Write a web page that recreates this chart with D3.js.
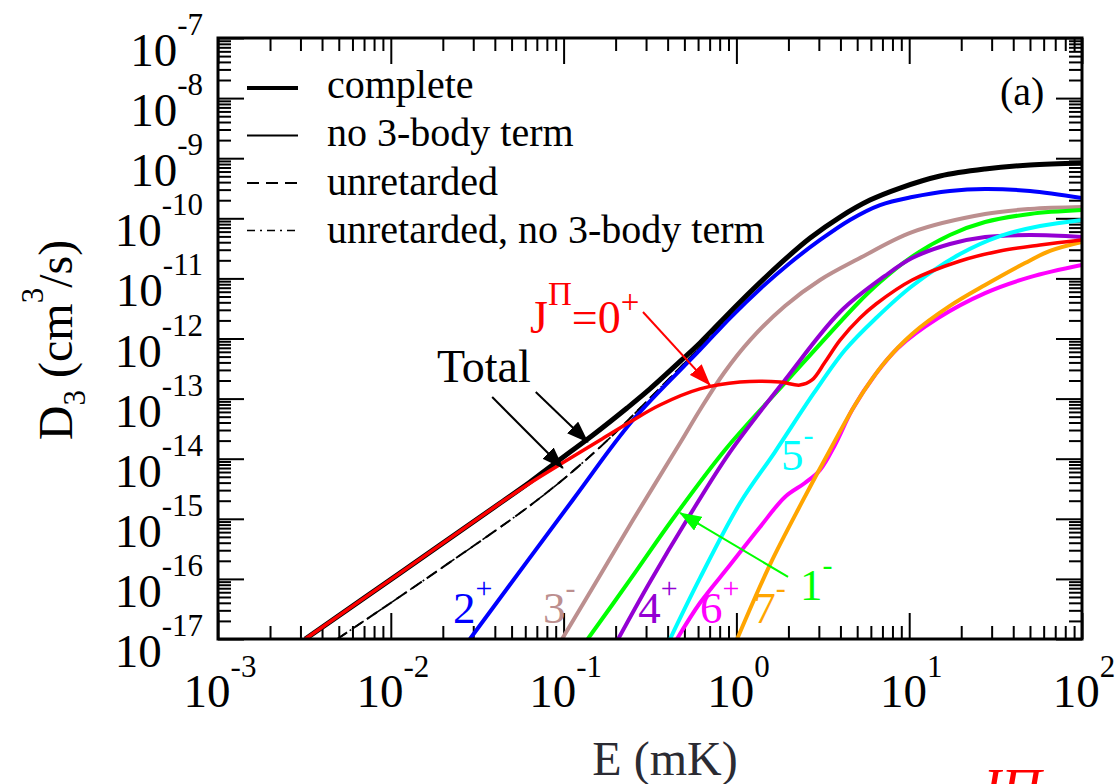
<!DOCTYPE html>
<html>
<head>
<meta charset="utf-8">
<script src="https://cdn.jsdelivr.net/npm/d3@7"></script>
<style>
body { margin: 0; background: #fff; }
svg { display: block; font-family: "Liberation Serif", "Times New Roman", serif; }
</style>
</head>
<body>
<div class="viz"></div>
<script>
/* DATA */
// axis decades
const xMajor = [1e-3, 1e-2, 1e-1, 1e0, 1e1, 1e2];
const xTickExp = ["-3", "-2", "-1", "0", "1", "2"];
const yMajor = [1e-17, 1e-16, 1e-15, 1e-14, 1e-13, 1e-12, 1e-11, 1e-10, 1e-9, 1e-8, 1e-7];
const yTickExp = ["-17", "-16", "-15", "-14", "-13", "-12", "-11", "-10", "-9", "-8", "-7"];

// E (mK) and D3 (cm^3/s)
const eComplete = [3.2e-3, 1.13e-2, 4.3e-2, 6.4e-2, 8.33e-2, 0.109, 0.148, 0.233, 0.316, 0.518, 0.615, 1.05, 1.84, 2.67, 3.98, 5.93, 8.85, 15.1, 27.5, 50, 100];
const dComplete = [1e-17, 1.25e-16, 1.83e-15, 4.09e-15, 7.28e-15, 1.29e-14, 2.48e-14, 6.98e-14, 1.45e-13, 5.31e-13, 8.41e-13, 4.05e-12, 1.88e-11, 4.70e-11, 1.05e-10, 2.01e-10, 3.19e-10, 5.06e-10, 6.61e-10, 7.7e-10, 8.3e-10];

const eUnret = [4.9e-3, 1.93e-2, 7.3e-2, 0.163, 0.361, 0.931];
const dUnret = [1e-17, 1.46e-16, 2.22e-15, 1.57e-14, 1.50e-13, 2.46e-12];

const e0p = [3.2e-3, 1.13e-2, 4.3e-2, 6.4e-2, 0.105, 0.163, 0.242, 0.361, 0.615, 1.05, 1.79, 2.33, 2.74, 3.26, 3.98, 5.19, 6.43, 10.4, 19.7, 33.5, 57.2, 100];
const d0p = [1e-17, 1.25e-16, 1.83e-15, 3.94e-15, 9.5e-15, 2.05e-14, 4.08e-14, 7.83e-14, 1.45e-13, 1.89e-13, 1.89e-13, 1.68e-13, 2.04e-13, 4.06e-13, 9.4e-13, 2.19e-12, 3.75e-12, 9.4e-12, 1.95e-11, 2.86e-11, 3.6e-11, 4.36e-11];

const e2p = [2.87e-2, 0.113, 0.252, 0.615, 0.918, 1.37, 2.01, 3.05, 4.54, 6.78, 10.4, 17.2, 27.5, 50, 100];
const d2p = [1e-17, 2.06e-15, 4.41e-14, 6.44e-13, 2.19e-12, 6.67e-12, 1.74e-11, 4.36e-11, 9.4e-11, 1.66e-10, 2.26e-10, 2.85e-10, 3.07e-10, 2.85e-10, 2.18e-10];

const e3m = [9.8e-2, 0.163, 0.252, 0.472, 0.615, 0.847, 1.20, 1.91, 3.05, 5.06, 10.4, 27.5, 50, 100];
const d3m = [1e-17, 1.16e-16, 9.55e-16, 1.82e-14, 6.46e-14, 2.67e-13, 9.4e-13, 3.48e-12, 9.4e-12, 2.10e-11, 5.9e-11, 1.18e-10, 1.43e-10, 1.54e-10];

const e1m = [0.138, 0.242, 0.424, 0.859, 1.91, 5.06, 6.78, 10.1, 17.2, 27.5, 50, 100];
const d1m = [1e-17, 9.6e-17, 9.55e-16, 1.40e-14, 1.82e-13, 3.9e-12, 8.7e-12, 2.18e-11, 5.27e-11, 8.67e-11, 1.18e-10, 1.37e-10];

const e4p = [0.207, 0.316, 0.525, 0.918, 1.91, 3.98, 7.24, 10.4, 17.2, 27.5, 50, 100];
const d4p = [1e-17, 8.87e-17, 1.03e-15, 1.29e-14, 2.04e-13, 2.76e-12, 1.10e-11, 2.18e-11, 3.73e-11, 4.89e-11, 5.27e-11, 4.89e-11];

const e5m = [0.413, 0.615, 1.05, 1.67, 2.81, 4.25, 6.43, 10.4, 19.7, 33.5, 57.2, 100];
const d5m = [1e-17, 1.03e-16, 1.83e-15, 1.29e-14, 1.24e-13, 6.44e-13, 2.19e-12, 7.48e-12, 2.55e-11, 5.07e-11, 7.44e-11, 9.4e-11];

const e6p = [0.453, 0.615, 0.918, 1.37, 1.91, 2.49, 3.05, 3.72, 4.67, 6.34, 8.61, 14.7, 27.5, 50, 100];
const d6p = [1e-17, 3.97e-17, 1.70e-16, 7.31e-16, 2.31e-15, 3.94e-15, 6.5e-15, 1.69e-14, 6.46e-14, 2.47e-13, 6.95e-13, 2.19e-12, 5.7e-12, 1.05e-11, 1.67e-11];

const e7m = [1.01, 1.56, 2.40, 3.48, 5.06, 7.24, 10.4, 17.2, 27.5, 46.8, 65.3, 100];
const d7m = [1e-17, 1.70e-16, 1.91e-15, 1.40e-14, 9.48e-14, 4.06e-13, 1.19e-12, 3.48e-12, 7.76e-12, 1.80e-11, 2.86e-11, 4.03e-11];

const legendLabels = ["complete", "no 3-body term", "unretarded", "unretarded, no 3-body term"];

/* LAYOUT */
const W = 1118, H = 784;
const plot = { left: 218, right: 1082, top: 38, bottom: 639 };

const col = {
    blue: "#0000ff", red: "#ff0000", brown: "#bc8f8f", green: "#00ff00",
    violet: "#9400d3", cyan: "#00ffff", magenta: "#ff00ff", orange: "#ffa500"
};

const svg = d3.select(".viz")
    .append("svg")
    .attr("width", W)
    .attr("height", H);

const x = d3.scaleLog().domain([1e-3, 1e2]).range([plot.left, plot.right]);
const y = d3.scaleLog().domain([1e-17, 1e-7]).range([plot.bottom, plot.top]);

// minor ticks 2..9 in every decade
const xMinor = [];
xMajor.slice(0, -1).forEach(v => { for (let m = 2; m <= 9; m++) xMinor.push(m * v); });
const yMinor = [];
yMajor.slice(0, -1).forEach(v => { for (let m = 2; m <= 9; m++) yMinor.push(m * v); });

/* TICKS (inward, on all four sides) */
function ticks(axis, vals, len, tx, ty) {
    const g = svg.append("g")
        .attr("transform", `translate(${tx},${ty})`)
        .call(axis.tickValues(vals).tickSize(-len).tickFormat(""));
    g.select(".domain").remove();
    g.selectAll(".tick line").attr("stroke", "#000").attr("stroke-width", 2);
}
[[xMajor, 26], [xMinor, 13]].forEach(([v, l]) => {
    ticks(d3.axisBottom(x), v, l, 0, plot.bottom);
    ticks(d3.axisTop(x), v, l, 0, plot.top);
});
[[yMajor, 26], [yMinor, 13]].forEach(([v, l]) => {
    ticks(d3.axisLeft(y), v, l, plot.left, 0);
    ticks(d3.axisRight(y), v, l, plot.right, 0);
});

/* CURVES */
svg.append("clipPath").attr("id", "clip")
    .append("rect")
    .attr("x", plot.left).attr("y", plot.top)
    .attr("width", plot.right - plot.left).attr("height", plot.bottom - plot.top);

const curves = svg.append("g").attr("clip-path", "url(#clip)");

const line = d3.line()
    .x(p => x(p[0]))
    .y(p => y(p[1]))
    .curve(d3.curveCatmullRom.alpha(0.5));

const series = [
    { e: eUnret, d: dUnret, color: "#000", w: 2, dash: "12,6" },
    { e: eUnret, d: dUnret, color: "#000", w: 1.6, dash: "10,5,2,5" },
    { e: e2p, d: d2p, color: col.blue, w: 4 },
    { e: e3m, d: d3m, color: col.brown, w: 4 },
    { e: e1m, d: d1m, color: col.green, w: 4 },
    { e: e4p, d: d4p, color: col.violet, w: 4 },
    { e: e5m, d: d5m, color: col.cyan, w: 4 },
    { e: e6p, d: d6p, color: col.magenta, w: 4 },
    { e: e7m, d: d7m, color: col.orange, w: 4 },
    { e: eComplete, d: dComplete, color: "#000", w: 5 },
    { e: e0p, d: d0p, color: col.red, w: 3.5 }
];

series.forEach(s => {
    curves.append("path")
        .datum(d3.zip(s.e, s.d))
        .attr("d", line)
        .attr("fill", "none")
        .attr("stroke", s.color)
        .attr("stroke-width", s.w)
        .attr("stroke-dasharray", s.dash || null)
        .attr("stroke-linejoin", "round");
});

/* FRAME */
svg.append("rect")
    .attr("x", plot.left).attr("y", plot.top)
    .attr("width", plot.right - plot.left).attr("height", plot.bottom - plot.top)
    .attr("fill", "none").attr("stroke", "#000").attr("stroke-width", 3);

/* TICK LABELS */
svg.selectAll(null)
    .data(xMajor)
    .enter()
    .append("text")
    .attr("x", d => x(d) + 2)
    .attr("y", plot.bottom + 68)
    .attr("text-anchor", "middle")
    .attr("font-size", 47)
    .text("10")
    .append("tspan")
    .attr("dy", -30)
    .attr("font-size", 31)
    .text((d, i) => xTickExp[i]);

svg.selectAll(null)
    .data(yMajor)
    .enter()
    .append("text")
    .attr("x", plot.left - 15)
    .attr("y", d => y(d) + 28)
    .attr("text-anchor", "end")
    .attr("font-size", 47)
    .text("10")
    .append("tspan")
    .attr("dy", -31)
    .attr("font-size", 31)
    .text((d, i) => yTickExp[i]);

/* AXIS TITLES */
const yt = svg.append("text")
    .attr("transform", "translate(72,340) rotate(-90)")
    .attr("text-anchor", "middle")
    .attr("font-size", 48);
yt.append("tspan").text("D");
yt.append("tspan").attr("dy", 13).attr("font-size", 31).text("3");
yt.append("tspan").attr("dy", -13).text(" (cm");
yt.append("tspan").attr("dy", -29).attr("font-size", 31).text("3");
yt.append("tspan").attr("dy", 29).text("/s)");

svg.append("text")
    .attr("x", 665).attr("y", 775)
    .attr("text-anchor", "middle")
    .attr("font-size", 48)
    .attr("fill", "#2b2b33")
    .text("E (mK)");

/* LEGEND */
const legStyles = [
    { w: 4, dash: null }, { w: 2, dash: null },
    { w: 2, dash: "12,7" }, { w: 1.6, dash: "8,5,2,5" }
];
const leg = svg.append("g");
leg.selectAll(null)
    .data(legendLabels)
    .enter()
    .append("line")
    .attr("x1", 247).attr("x2", 298)
    .attr("y1", (d, i) => 88 + i * 47.5)
    .attr("y2", (d, i) => 88 + i * 47.5)
    .attr("stroke", "#000")
    .attr("stroke-width", (d, i) => legStyles[i].w)
    .attr("stroke-dasharray", (d, i) => legStyles[i].dash);
leg.selectAll(null)
    .data(legendLabels)
    .enter()
    .append("text")
    .attr("x", 327)
    .attr("y", (d, i) => 98 + i * 48.3)
    .attr("font-size", 40)
    .text(d => d);

svg.append("text")
    .attr("x", 1000).attr("y", 105)
    .attr("font-size", 40)
    .text("(a)");

/* ANNOTATIONS (placed in data coordinates) */
const defs = svg.append("defs");
function arrowHead(id, color) {
    defs.append("marker")
        .attr("id", id)
        .attr("markerUnits", "userSpaceOnUse")
        .attr("viewBox", "0 0 22 16")
        .attr("refX", 21).attr("refY", 8)
        .attr("markerWidth", 22).attr("markerHeight", 16)
        .attr("orient", "auto")
        .append("path")
        .attr("d", "M0,0 L22,8 L0,16 Z")
        .attr("fill", color);
}
arrowHead("ah-black", "#000");
arrowHead("ah-red", col.red);
arrowHead("ah-green", col.green);

const arrows = [
    { from: [3.86e-2, 1.06e-13], to: [9.9e-2, 7.0e-15], color: "#000", id: "ah-black" },
    { from: [6.9e-2, 1.29e-13], to: [0.138, 1.90e-14], color: "#000", id: "ah-black" },
    { from: [0.288, 2.76e-12], to: [0.703, 1.68e-13], color: col.red, id: "ah-red" },
    { from: [1.99, 1.08e-16], to: [0.472, 1.25e-15], color: col.green, id: "ah-green" }
];
svg.selectAll(null)
    .data(arrows)
    .enter()
    .append("line")
    .attr("x1", d => x(d.from[0])).attr("y1", d => y(d.from[1]))
    .attr("x2", d => x(d.to[0])).attr("y2", d => y(d.to[1]))
    .attr("stroke", d => d.color)
    .attr("stroke-width", 2)
    .attr("marker-end", d => `url(#${d.id})`);

svg.append("text")
    .attr("x", x(1.85e-2)).attr("y", y(1.89e-13))
    .attr("font-size", 46)
    .text("Total");

const jp = svg.append("text")
    .attr("x", x(6.4e-2)).attr("y", y(1.23e-12))
    .attr("font-size", 46)
    .attr("fill", col.red);
jp.append("tspan").text("J");
jp.append("tspan").attr("dy", -28).attr("font-size", 33).text("Π");
jp.append("tspan").attr("dy", 28).text("=0");
jp.append("tspan").attr("dy", -20).attr("font-size", 33).text("+");

const stateLabels = [
    { base: "2", sup: "+", e: 2.29e-2, d: 1.85e-17, color: col.blue },
    { base: "3", sup: "-", e: 7.6e-2, d: 1.85e-17, color: col.brown },
    { base: "4", sup: "+", e: 0.27, d: 1.85e-17, color: col.violet },
    { base: "6", sup: "+", e: 0.615, d: 1.85e-17, color: col.magenta },
    { base: "7", sup: "-", e: 1.25, d: 1.85e-17, color: col.orange },
    { base: "1", sup: "-", e: 2.33, d: 4.46e-17, color: col.green },
    { base: "5", sup: "-", e: 1.81, d: 6.5e-15, color: col.cyan }
];
const sl = svg.selectAll(null)
    .data(stateLabels)
    .enter()
    .append("text")
    .attr("x", d => x(d.e)).attr("y", d => y(d.d))
    .attr("font-size", 45)
    .attr("fill", d => d.color);
sl.append("tspan").text(d => d.base);
sl.append("tspan").attr("dy", -25).attr("font-size", 30).text(d => d.sup);

// partial red label cut by the lower edge, as in the source figure
svg.append("text")
    .attr("x", 976).attr("y", 808)
    .attr("font-size", 56)
    .attr("font-style", "italic")
    .attr("fill", col.red)
    .text("JΠ");
</script>
</body>
</html>
